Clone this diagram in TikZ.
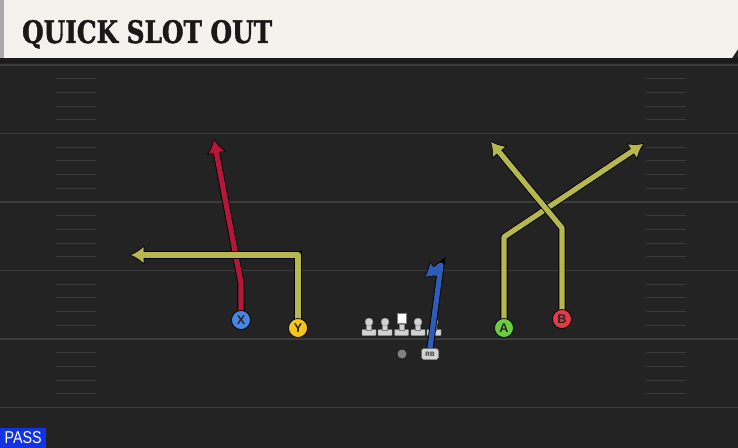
\documentclass[tikz,border=0pt]{standalone}
\usepackage{fontspec}
\setmainfont{Liberation Sans}
\newfontfamily\titlefont[BoldFeatures={FakeBold=1.5}]{DejaVu Serif}
\usepackage{tikz}
\usetikzlibrary{arrows.meta}
\definecolor{fieldgray}{HTML}{232323}
\definecolor{yardgray}{HTML}{3C3C3C}
\definecolor{hashgray}{HTML}{3A3A3A}
\definecolor{headercream}{HTML}{F4F2EC}
\definecolor{shadowgray}{HTML}{1A1A1A}
\definecolor{stripgray}{HTML}{A9A9A9}
\definecolor{routeyellow}{HTML}{B7B750}
\definecolor{routered}{HTML}{B5173B}
\definecolor{routeblue}{HTML}{2E5DB8}
\definecolor{xblue}{HTML}{4A86E0}
\definecolor{yyellow}{HTML}{F5C41E}
\definecolor{agreen}{HTML}{6CCB3E}
\definecolor{bred}{HTML}{E23B47}
\definecolor{linegray}{HTML}{D2D2D2}
\definecolor{passblue}{HTML}{1232E6}
\pgfdeclarelayer{field}
\pgfdeclarelayer{routes}
\pgfsetlayers{field,routes,main}

\begin{document}
\begin{tikzpicture}[x=0.05cm, y=-0.05cm,
	yard/.style={draw=yardgray, line width=1.6pt},
	hash/.style={draw=hashgray, line width=1.4pt},
	player/.style={circle, draw=black, line width=1pt, minimum size=0.95cm, inner sep=0pt, text=black!85, font=\fontsize{18}{18}\selectfont\bfseries},
	lineman/.style={fill=linegray, draw=gray, line width=0.5pt},
	route/.style={line width=7.5pt, line join=round, -{Latex[length=18pt,width=24pt]},
		preaction={draw=black, line width=10pt, shorten >=-2pt, -{Latex[length=21pt,width=29pt]}}}]
	\useasboundingbox (0,0) rectangle (738,448);
	% Field, yard lines and hash marks:
	\begin{pgfonlayer}{field}
		\fill[fieldgray] (0,0) rectangle (738,448);
		\foreach \k in {0,...,5}
			\draw[yard] (0,65+68.5*\k) -- (738,65+68.5*\k);
		\foreach \k in {0,...,4}
			\foreach \j in {1,...,4} {
				\draw[hash] (56,65+68.5*\k+13.7*\j) -- (96,65+68.5*\k+13.7*\j);
				\draw[hash] (646,65+68.5*\k+13.7*\j) -- (686,65+68.5*\k+13.7*\j);
			}
		% Header:
		\fill[shadowgray] (0,58) rectangle (738,63);
		\fill[headercream] (0,0) -- (738,0) -- (738,49) -- (732,58) -- (0,58) -- cycle;
		\fill[stripgray] (0,0) rectangle (4,58);
		% Offensive line:
		\foreach \x/\nm in {369/LT,385/LG,418/RG,434/RT} {
			\draw[lineman, rounded corners=1pt] (\x-7,329.5) rectangle (\x+7,335.5);
			\draw[lineman] (\x-2.5,324) rectangle (\x+2.5,330);
			\node[circle, lineman, minimum size=0.4cm, inner sep=0pt] (\nm) at (\x,322) {};
		}
		\draw[lineman, rounded corners=1pt] (394.5,329.5) rectangle (408.5,335.5);
		\draw[lineman] (399,324) rectangle (404,330);
		\node[rectangle, fill=white, draw=gray, line width=0.5pt, minimum size=0.48cm, inner sep=0pt] (C) at (401.5,318) {};
	\end{pgfonlayer}
	\node[anchor=base west, inner sep=0pt] (title) at (22,43) {\resizebox{12.5cm}{1.15cm}{\color{black!90}\titlefont\bfseries QUICK SLOT OUT}};
	% Players:
	\node[player, fill=xblue] (X) at (241,320) {X};
	\node[player, fill=yyellow] (Y) at (298,328) {Y};
	\node[player, fill=agreen] (A) at (504,328) {A};
	\node[player, fill=bred] (B) at (562,319) {B};
	\node[circle, fill=gray, minimum size=0.45cm, inner sep=0pt] (QB) at (402,354) {};
	\node[rectangle, rounded corners=2.5pt, fill=linegray, draw=gray, line width=0.5pt, minimum width=0.85cm, minimum height=0.55cm, inner sep=0pt, text=black!80, font=\fontsize{9}{9}\selectfont\bfseries] (RB) at (430,354) {RB};
	\node[fill=passblue, anchor=south west, minimum width=2.3cm, minimum height=1cm, inner sep=0pt] (pass) at (0,448) {\resizebox{1.85cm}{0.6cm}{\color{white}PASS}};
	% Route ends:
	\coordinate (xend) at (214,140);
	\coordinate (yend) at (131,255);
	\coordinate (aend) at (643,144);
	\coordinate (bend) at (491,142);
	\coordinate (rbturn) at (441,265);
	\coordinate (rbend) at (425,277);
	% Routes:
	\begin{pgfonlayer}{routes}
		\draw[route, routered] (X.center) -- ++(0,-37) -- (xend);
		\draw[route, routeyellow] (Y.center) |- (yend);
		\draw[route, routeyellow] (A.center) -- ++(0,-91) -- (aend);
		\draw[route, routeyellow] (B.center) -- ++(0,-91) -- (bend);
		\draw[route, routeblue] (RB.north) -- (rbturn) -- (rbend);
	\end{pgfonlayer}
\end{tikzpicture}
\end{document}
